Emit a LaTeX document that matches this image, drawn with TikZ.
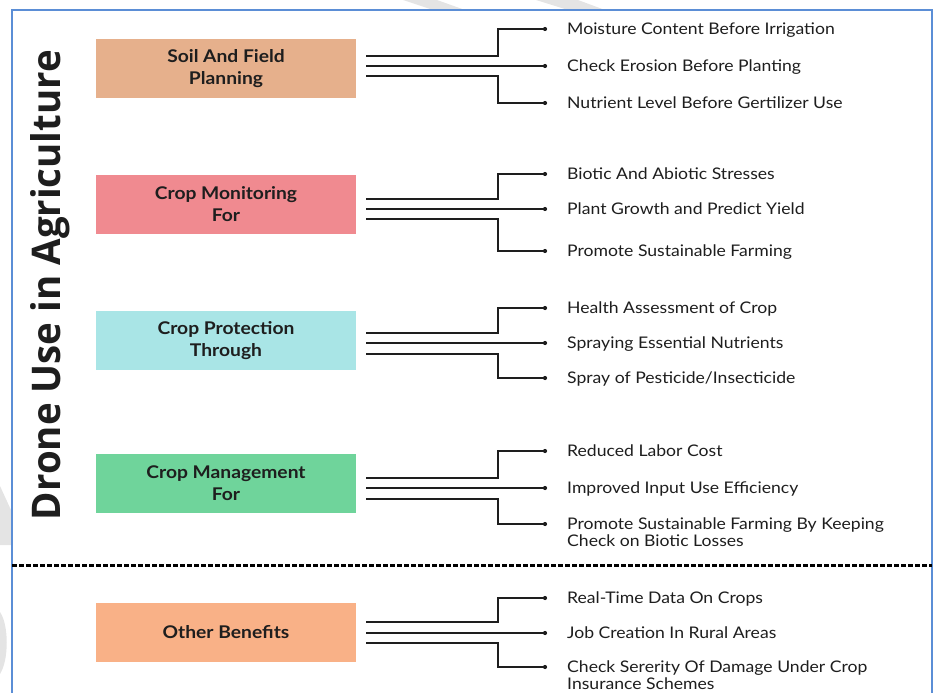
\documentclass[tikz,border=0pt]{standalone}
\usepackage{fontspec}
\setmainfont{Lato}[FakeStretch=1.1]
\newfontfamily\titlefont{Open Sans}
\usetikzlibrary{calc}
\definecolor{framec}{HTML}{5B8ED6}
\definecolor{soilc}{HTML}{E6B08C}
\definecolor{monc}{HTML}{F08A90}
\definecolor{protc}{HTML}{A9E5E6}
\definecolor{manc}{HTML}{6FD49B}
\definecolor{othc}{HTML}{F9B187}
\definecolor{wmark}{HTML}{E4E4E4}
\definecolor{inkc}{HTML}{1E1E1E}
\begin{document}
\begin{tikzpicture}[x=1pt,y=-1pt,
  box/.style={minimum width=260pt, minimum height=59pt, inner sep=0pt, align=center,
    font=\fontsize{17.5}{22}\selectfont\bfseries, text=inkc},
  item/.style={anchor=base west, inner sep=0pt, font=\fontsize{16}{17}\selectfont, text=inkc},
  conn/.style={line width=1.3pt, draw=inkc},
  dotc/.style={circle, fill=inkc, inner sep=0pt, minimum size=4.2pt},
  sep/.style={line width=3pt, dash pattern=on 4.5pt off 2.5pt, draw=black}]
\useasboundingbox (0,0) rectangle (935,693);
% watermark fragments
\fill[wmark] (403,0) -- (437,0) -- (465,10) -- (433,10) -- cycle;
\fill[wmark] (536,0) -- (578,0) -- (605,10) -- (568,10) -- cycle;
\fill[wmark] (0,486) -- (11,510) -- (11,545) -- (0,545) -- cycle;
\fill[wmark] (0,612) .. controls (9,625) and (9,660) .. (0,674) -- cycle;
% frame
\fill[white] (12,10) rectangle (932,700);
\draw[framec, line width=1.5pt] (12,700) -- (12,10) -- (932,10) -- (932,700);
% title
\node[rotate=90, anchor=base, inner sep=0pt, font=\titlefont\bfseries, text=inkc] (title) at (60,285)
  {\resizebox{470pt}{30pt}{Drone Use in Agriculture}};
% elbow x reference
\coordinate (ex) at (498,0);
% ---------- Soil
\node[box, fill=soilc] (s) at (226,68.5) {Soil And Field\\Planning};
\coordinate (sa1) at (366,56); \coordinate (sa2) at (366,66); \coordinate (sa3) at (366,76);
\node[dotc] (sd1) at (545,29) {}; \node[dotc] (sd2) at (545,66) {}; \node[dotc] (sd3) at (545,103) {};
\node[item] (st1) at (567,34.5) {Moisture Content Before Irrigation};
\node[item] (st2) at (567,71.5) {Check Erosion Before Planting};
\node[item] (st3) at (567,108.5) {Nutrient Level Before Gertilizer Use};
\draw[conn] (sa1) -- (sa1 -| ex) |- (sd1.center);
\draw[conn] (sa2) -- (sd2.center);
\draw[conn] (sa3) -- (sa3 -| ex) |- (sd3.center);
% ---------- Monitoring
\node[box, fill=monc] (m) at (226,204.5) {Crop Monitoring\\For};
\coordinate (ma1) at (366,199); \coordinate (ma2) at (366,209); \coordinate (ma3) at (366,219);
\node[dotc] (md1) at (545,174) {}; \node[dotc] (md2) at (545,209) {}; \node[dotc] (md3) at (545,251) {};
\node[item] (mt1) at (567,179.5) {Biotic And Abiotic Stresses};
\node[item] (mt2) at (567,214.5) {Plant Growth and Predict Yield};
\node[item] (mt3) at (567,256.5) {Promote Sustainable Farming};
\draw[conn] (ma1) -- (ma1 -| ex) |- (md1.center);
\draw[conn] (ma2) -- (md2.center);
\draw[conn] (ma3) -- (ma3 -| ex) |- (md3.center);
% ---------- Protection
\node[box, fill=protc] (p) at (226,340.5) {Crop Protection\\Through};
\coordinate (pa1) at (366,333); \coordinate (pa2) at (366,343); \coordinate (pa3) at (366,354);
\node[dotc] (pd1) at (545,308) {}; \node[dotc] (pd2) at (545,343) {}; \node[dotc] (pd3) at (545,378) {};
\node[item] (pt1) at (567,313.5) {Health Assessment of Crop};
\node[item] (pt2) at (567,348.5) {Spraying Essential Nutrients};
\node[item] (pt3) at (567,383.5) {Spray of Pesticide/Insecticide};
\draw[conn] (pa1) -- (pa1 -| ex) |- (pd1.center);
\draw[conn] (pa2) -- (pd2.center);
\draw[conn] (pa3) -- (pa3 -| ex) |- (pd3.center);
% ---------- Management
\node[box, fill=manc] (g) at (226,483.5) {Crop Management\\For};
\coordinate (ga1) at (366,478); \coordinate (ga2) at (366,488); \coordinate (ga3) at (366,499);
\node[dotc] (gd1) at (545,451) {}; \node[dotc] (gd2) at (545,488) {}; \node[dotc] (gd3) at (545,524) {};
\node[item] (gt1) at (567,456.5) {Reduced Labor Cost};
\node[item] (gt2) at (567,493.5) {Improved Input Use Efficiency};
\node[item] (gt3) at (567,529.5) {\vtop{\hbox{Promote Sustainable Farming By Keeping}\hbox{Check on Biotic Losses}}};
\draw[conn] (ga1) -- (ga1 -| ex) |- (gd1.center);
\draw[conn] (ga2) -- (gd2.center);
\draw[conn] (ga3) -- (ga3 -| ex) |- (gd3.center);
% ---------- separator
\coordinate (sepl) at (12,565); \coordinate (sepr) at (932,565);
\draw[sep] (sepl) -- (sepr);
% ---------- Other
\node[box, fill=othc] (o) at (226,632.5) {Other Benefits};
\coordinate (oa1) at (366,622); \coordinate (oa2) at (366,633); \coordinate (oa3) at (366,643);
\node[dotc] (od1) at (545,598) {}; \node[dotc] (od2) at (545,633) {}; \node[dotc] (od3) at (545,667) {};
\node[item] (ot1) at (567,603.5) {Real-Time Data On Crops};
\node[item] (ot2) at (567,638.5) {Job Creation In Rural Areas};
\node[item] (ot3) at (567,672.5) {\vtop{\hbox{Check Sererity Of Damage Under Crop}\hbox{Insurance Schemes}}};
\draw[conn] (oa1) -- (oa1 -| ex) |- (od1.center);
\draw[conn] (oa2) -- (od2.center);
\draw[conn] (oa3) -- (oa3 -| ex) |- (od3.center);
\end{tikzpicture}
\end{document}
